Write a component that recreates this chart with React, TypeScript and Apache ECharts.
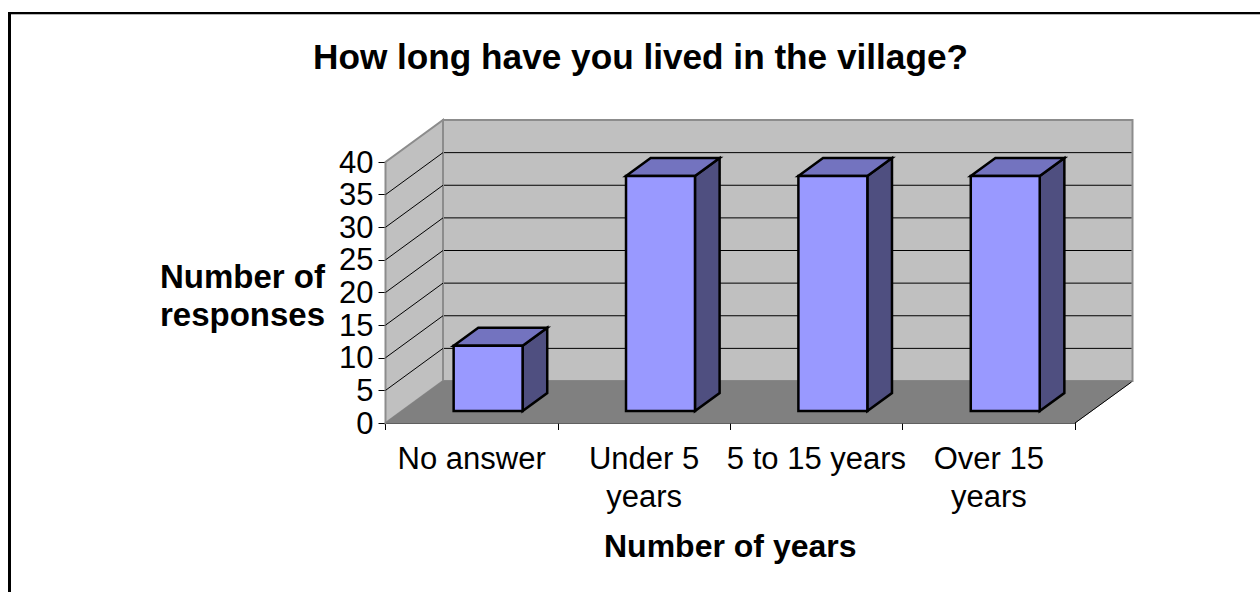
import React, { useEffect, useRef } from "react";
import * as echarts from "echarts";

const categories = ["No answer", "Under 5\nyears", "5 to 15 years", "Over 15\nyears"];
const responses = [10, 36, 36, 36];
const gridTicks = [5, 10, 15, 20, 25, 30, 35, 40];
const FONT = "Liberation Sans";

// projected depth of the chart box and of the bars, in pixels
const DEPTH_X = 57.5;
const DEPTH_Y = 42;
const BAR_NEAR = 12 / 42;
const BAR_FAR = 30 / 42;

const poly = (points: number[][], fill: string, stroke: string, lineWidth: number) => ({
  type: "polygon",
  shape: { points },
  style: { fill, stroke, lineWidth },
});
const seg = (a: number[], b: number[], stroke: string, lineWidth: number) => ({
  type: "line",
  shape: { x1: a[0], y1: a[1], x2: b[0], y2: b[1] },
  style: { stroke, lineWidth },
});

export default function App() {
  const ref = useRef<HTMLDivElement>(null);
  useEffect(() => {
    document.body.style.margin = "0";
    const chart = echarts.init(ref.current!, undefined, { renderer: "svg" });
    chart.setOption({
      animation: false,
      backgroundColor: "#ffffff",
      textStyle: { fontFamily: FONT },
      title: {
        text: "How long have you lived in the village?",
        left: 635.5,
        top: 34,
        textAlign: "center",
        textStyle: { fontFamily: FONT, fontSize: 35.2, fontWeight: "bold", color: "#000" },
      },
      graphic: [
        {
          type: "line",
          shape: { x1: 11, y1: 14.5, x2: 1260, y2: 14.5 },
          style: { stroke: "#b4b4b4", lineWidth: 1 },
          silent: true,
        },
        {
          type: "line",
          shape: { x1: 8, y1: 13, x2: 1260, y2: 13 },
          style: { stroke: "#000", lineWidth: 2 },
          silent: true,
        },
        {
          type: "line",
          shape: { x1: 9.5, y1: 12, x2: 9.5, y2: 592 },
          style: { stroke: "#000", lineWidth: 3 },
          silent: true,
        },
        {
          type: "text",
          silent: true,
          x: 242.5,
          y: 295,
          style: {
            text: "Number of\nresponses",
            align: "center",
            verticalAlign: "middle",
            fill: "#000",
            fontFamily: FONT,
            fontSize: 33,
            fontWeight: "bold",
            lineHeight: 38,
          },
        },
      ],
      grid: { left: 385.5, right: 185, top: 162, bottom: 169 },
      xAxis: {
        type: "category",
        data: categories,
        axisLine: { show: true, lineStyle: { color: "#000", width: 1.5 } },
        axisTick: { show: true, alignWithLabel: false, length: 7, lineStyle: { color: "#000", width: 1 } },
        axisLabel: { color: "#000", fontFamily: FONT, fontSize: 31, lineHeight: 38, margin: 16, interval: 0, verticalAlign: "top" },
        name: "Number of years",
        nameLocation: "middle",
        nameGap: 107,
        nameTextStyle: { color: "#000", fontFamily: FONT, fontSize: 32, fontWeight: "bold" },
      },
      yAxis: {
        type: "value",
        min: 0,
        max: 40,
        interval: 5,
        splitLine: { show: false },
        axisLine: { show: true, lineStyle: { color: "#000", width: 1.5 } },
        axisTick: { show: true, length: 7, lineStyle: { color: "#000", width: 1 } },
        axisLabel: { color: "#000", fontFamily: FONT, fontSize: 31, margin: 12 },
      },
      series: [
        {
          type: "custom",
          silent: true,
          clip: false,
          data: [0],
          z: 1,
          renderItem: (_p: any, api: any) => {
            const o = api.coord([0, 0]);
            const s = api.size([1, 0]);
            const top = api.coord([0, 40])[1];
            const x0 = o[0] - s[0] / 2;
            const x1 = x0 + s[0] * categories.length;
            const children: any[] = [
              poly([[x0 + DEPTH_X, top - DEPTH_Y], [x1 + DEPTH_X, top - DEPTH_Y], [x1 + DEPTH_X, o[1] - DEPTH_Y], [x0 + DEPTH_X, o[1] - DEPTH_Y]], "#c0c0c0", "#8c8c8c", 2),
              poly([[x0, o[1]], [x0 + DEPTH_X, o[1] - DEPTH_Y], [x0 + DEPTH_X, top - DEPTH_Y], [x0, top]], "#c0c0c0", "#8c8c8c", 2),
              poly([[x0, o[1]], [x1, o[1]], [x1 + DEPTH_X, o[1] - DEPTH_Y], [x0 + DEPTH_X, o[1] - DEPTH_Y]], "#808080", "#808080", 1),
              seg([x1, o[1]], [x1 + DEPTH_X - 1, o[1] - DEPTH_Y + 1], "#000", 1),
            ];
            gridTicks.forEach((t) => {
              if (t === 40) return;
              const y = api.coord([0, t])[1];
              children.push(seg([x0, y], [x0 + DEPTH_X, y - DEPTH_Y], "#000", 1));
              children.push(seg([x0 + DEPTH_X + 1, y - DEPTH_Y], [x1 + DEPTH_X - 1, y - DEPTH_Y], "#000", 1));
            });
            return { type: "group", children };
          },
        },
        {
          type: "custom",
          silent: true,
          clip: false,
          z: 2,
          data: responses.map((v, i) => [i, v]),
          encode: { x: 0, y: 1 },
          renderItem: (_p: any, api: any) => {
            const i = api.value(0);
            const v = api.value(1);
            const base = api.coord([i, 0]);
            const tip = api.coord([i, v]);
            const w = api.size([1, 0])[0] * 0.4;
            const nx = DEPTH_X * BAR_NEAR;
            const ny = DEPTH_Y * BAR_NEAR;
            const fx = DEPTH_X * BAR_FAR;
            const fy = DEPTH_Y * BAR_FAR;
            const l = base[0] - w / 2;
            const r = base[0] + w / 2;
            const lw = 2.5;
            return {
              type: "group",
              children: [
                poly([[r + nx, tip[1] - ny], [r + fx, tip[1] - fy], [r + fx, base[1] - fy], [r + nx, base[1] - ny]], "#4f4f80", "#000", lw),
                poly([[l + nx, tip[1] - ny], [l + fx, tip[1] - fy], [r + fx, tip[1] - fy], [r + nx, tip[1] - ny]], "#7373bf", "#000", lw),
                poly([[l + nx, tip[1] - ny], [r + nx, tip[1] - ny], [r + nx, base[1] - ny], [l + nx, base[1] - ny]], "#9999ff", "#000", lw),
              ],
            };
          },
        },
      ],
    });
    return () => chart.dispose();
  }, []);
  return <div ref={ref} style={{ width: 1260, height: 592 }} />;
}
